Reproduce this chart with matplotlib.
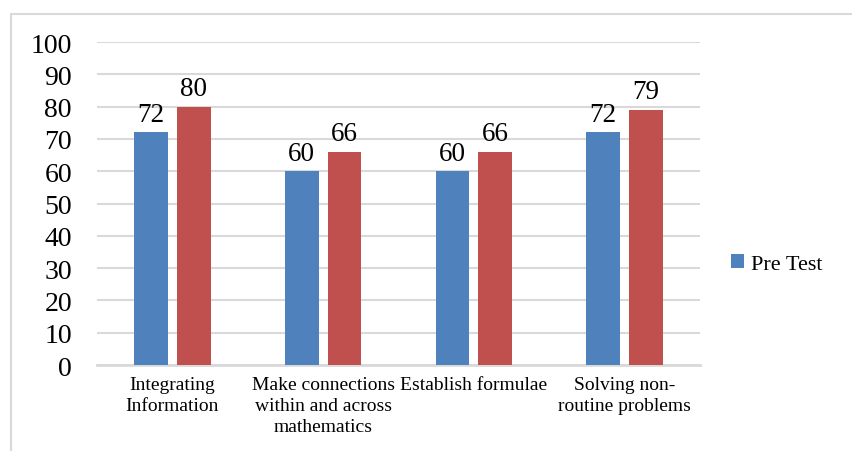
import numpy as np
import matplotlib.pyplot as plt
from matplotlib.patches import Rectangle

categories = ["Integrating\nInformation",
              "Make connections\nwithin and across\nmathematics",
              "Establish formulae",
              "Solving non-\nroutine problems"]
pre_test = [72, 60, 60, 72]
post_test = [80, 66, 66, 79]
y_ticks = [0, 10, 20, 30, 40, 50, 60, 70, 80, 90, 100]

plt.rcParams['font.family'] = ['Liberation Serif', 'DejaVu Serif']

blue = '#4F81BD'
red = '#C0504D'
grid_c = '#D9D9D9'

fig = plt.figure(figsize=(8.53, 4.52), dpi=100)
ax = fig.add_axes([97/853, 1 - 366/452, 603/853, 323/452])

x = np.arange(len(categories))
w = 0.225
off = 0.142
b1 = ax.bar(x - off, pre_test, w, color=blue, label='Pre Test', zorder=3)
b2 = ax.bar(x + off, post_test, w, color=red, zorder=3)

for bars in (b1, b2):
    for r in bars:
        ax.annotate(f"{r.get_height():.0f}", (r.get_x() + r.get_width()/2, r.get_height()),
                    xytext=(0, 4), textcoords='offset points',
                    ha='center', va='bottom', fontsize=19.5)

ax.set_xlim(-0.5, len(categories) - 0.5)
ax.set_ylim(0, 100)
ax.set_yticks(y_ticks)
ax.yaxis.grid(True, color=grid_c, linewidth=1.5, zorder=0)
ax.set_axisbelow(True)
for s in ['top', 'right', 'left']:
    ax.spines[s].set_visible(False)
ax.spines['bottom'].set_color(grid_c)
ax.spines['bottom'].set_linewidth(2)
ax.tick_params(axis='y', length=0, pad=18, labelsize=20)
ax.tick_params(axis='x', length=0, pad=8, labelsize=14)
ax.set_xticks(x)
ax.set_xticklabels(categories, linespacing=1.3)

fig.legend(handles=[b1], labels=['Pre Test'], loc='center left',
           bbox_to_anchor=(711/853, 1 - 265/452), frameon=False,
           fontsize=16, handlelength=0.6, handleheight=0.6, handletextpad=0.3)

# light outer frame of the chart area
fig.patches.append(Rectangle((10.5, -20), 900, 452 - 14 + 20 - 0.5,
                             transform=None, fill=False,
                             edgecolor=grid_c, linewidth=1.5))

fig.savefig('out.png', dpi=100)
